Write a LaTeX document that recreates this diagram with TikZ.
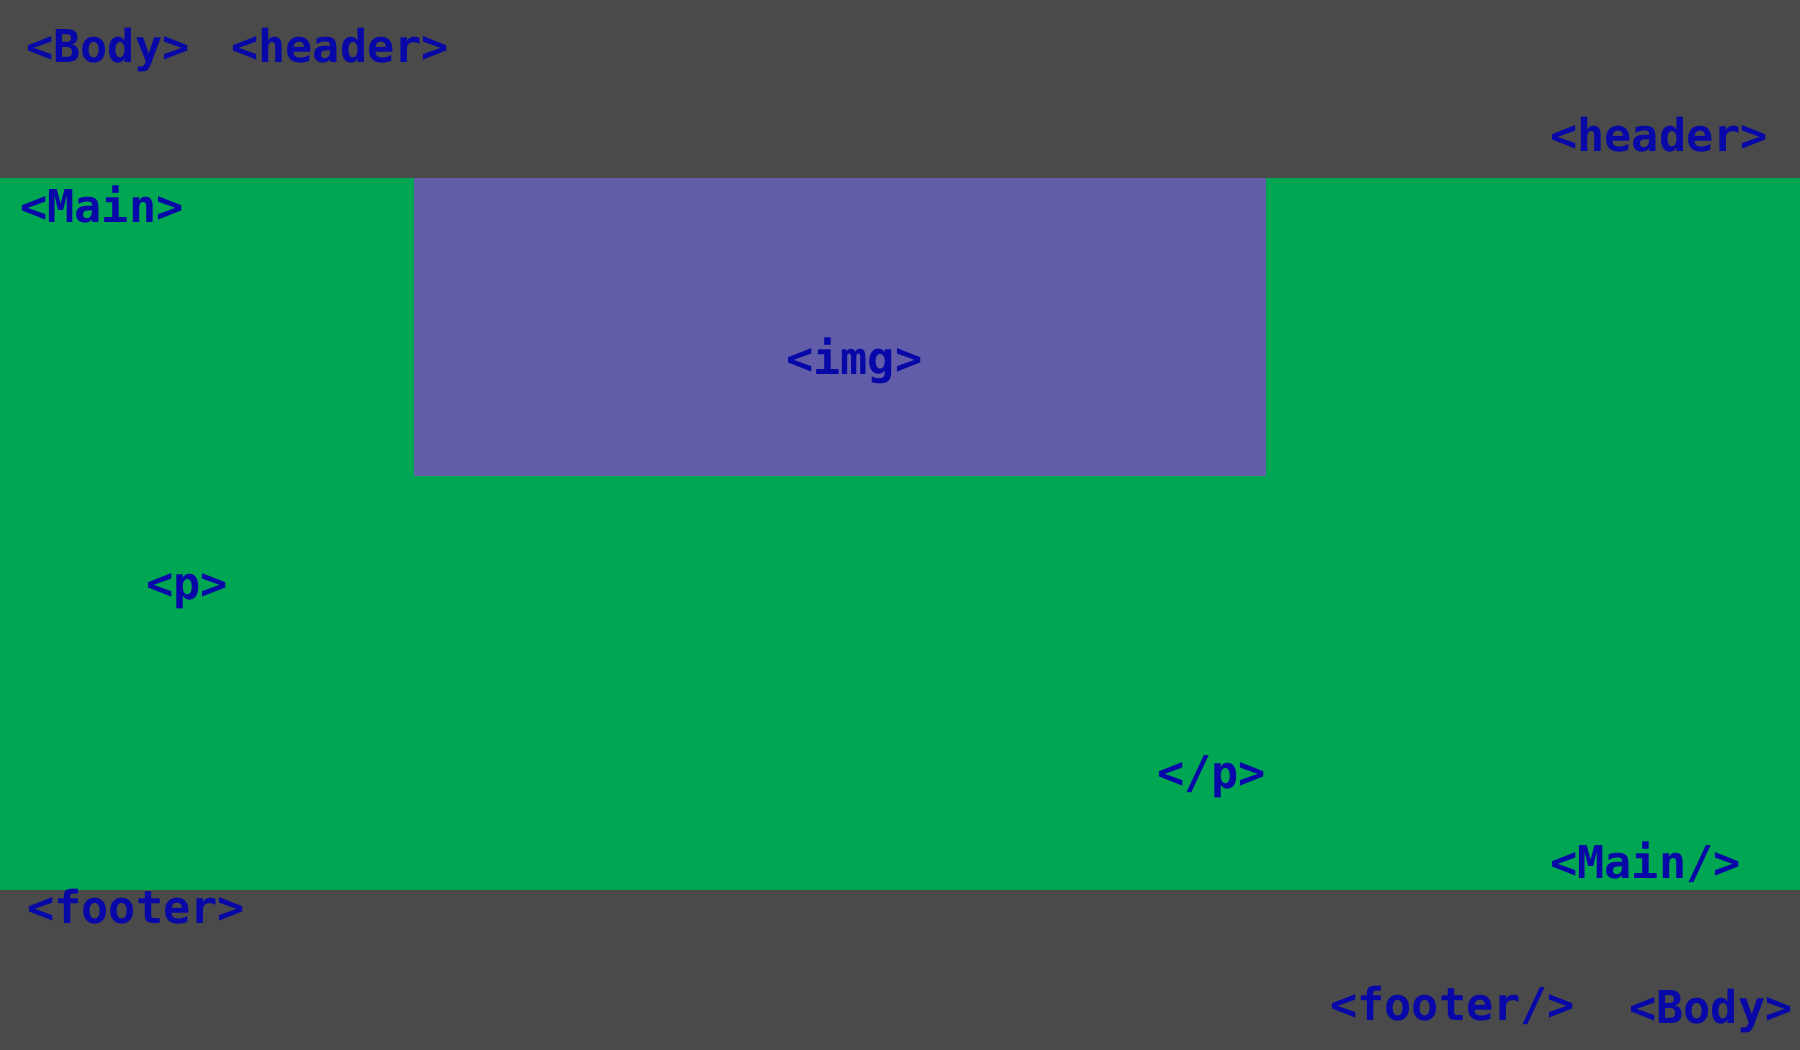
\documentclass[tikz,border=0pt]{standalone}
\usepackage{fontspec}
\newfontfamily\tagfont{DejaVu Sans Mono}
\usepackage{tikz}

\definecolor{bodygray}{RGB}{74,74,74}
\definecolor{maingreen}{RGB}{0,166,82}
\definecolor{imgpurple}{RGB}{97,93,168}
\definecolor{tagblue}{RGB}{8,8,168}

\tikzset{
  tag/.style={anchor=base west, inner sep=0pt, text=tagblue,
    font=\tagfont\bfseries\fontsize{33.9}{40}\selectfont},
}

\begin{document}
\begin{tikzpicture}[x=0.75pt,y=0.75pt,yscale=-1,xscale=1]
\useasboundingbox (0,0) rectangle (1800,1050);

%Shape: Rectangle (body)
\fill [bodygray] (0,0) -- (1800,0) -- (1800,1050) -- (0,1050) -- cycle ;
%Shape: Rectangle (main)
\fill [maingreen] (0,178) -- (1800,178) -- (1800,890) -- (0,890) -- cycle ;
%Shape: Rectangle (img)
\fill [imgpurple] (414,178) -- (1266,178) -- (1266,476) -- (414,476) -- cycle ;

% Text Node
\draw (26,62) node [tag] (bodyopen) {<Body>};
% Text Node
\draw (231,62) node [tag] (headeropen) {<header>};
% Text Node
\draw (1550,151) node [tag] (headerclose) {<header>};
% Text Node
\draw (20,222) node [tag] (mainopen) {<Main>};
% Text Node
\draw (786,374) node [tag] (imgtag) {<img>};
% Text Node
\draw (146,599) node [tag] (popen) {<p>};
% Text Node
\draw (1157,788) node [tag] (pclose) {</p>};
% Text Node
\draw (1550,878) node [tag] (mainclose) {<Main/>};
% Text Node
\draw (27,923) node [tag] (footeropen) {<footer>};
% Text Node
\draw (1330,1020) node [tag] (footerclose) {<footer/>};
% Text Node
\draw (1629,1023) node [tag] (bodyclose) {<Body>};

\end{tikzpicture}
\end{document}
